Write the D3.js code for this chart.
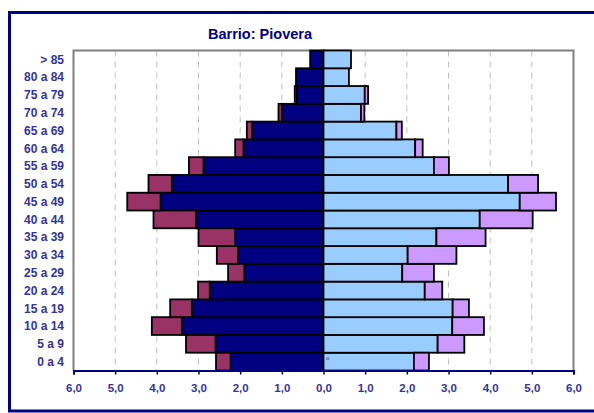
<!DOCTYPE html>
<html>
<head>
<meta charset="utf-8">
<script src="https://cdn.jsdelivr.net/npm/d3@7"></script>
<style>
  body { margin: 0; background: #fff; }
  svg { display: block; font-family: "Liberation Sans", Arial, sans-serif; }
</style>
</head>
<body>
<div id="chart"></div>
<script>
// age groups, bottom to top
var ages = ["0 a 4", "5 a 9", "10 a 14", "15 a 19", "20 a 24", "25 a 29", "30 a 34", "35 a 39",
            "40 a 44", "45 a 49", "50 a 54", "55 a 59", "60 a 64", "65 a 69", "70 a 74",
            "75 a 79", "80 a 84", "> 85"];
var menNative   = [2.23, 2.59, 3.40, 3.16, 2.73, 1.90, 2.05, 2.12, 3.06, 3.91, 3.64, 2.88, 1.92, 1.71, 1.00, 0.64, 0.66, 0.32];
var menForeign  = [0.35, 0.71, 0.72, 0.52, 0.28, 0.39, 0.51, 0.88, 1.02, 0.80, 0.56, 0.35, 0.20, 0.13, 0.08, 0.05, 0, 0];
var womenNative = [2.17, 2.74, 3.09, 3.10, 2.43, 1.89, 2.02, 2.71, 3.75, 4.71, 4.43, 2.65, 2.20, 1.75, 0.90, 0.99, 0.61, 0.66];
var womenForeign= [0.36, 0.64, 0.76, 0.39, 0.42, 0.76, 1.17, 1.18, 1.27, 0.87, 0.72, 0.36, 0.18, 0.13, 0.08, 0.08, 0, 0];
var xTicks = [-6, -5, -4, -3, -2, -1, 0, 1, 2, 3, 4, 5, 6];

var w = 594, h = 413;
var plot = {left: 73.5, right: 573.5, top: 50.5, bottom: 370.5};

var svg = d3.select("#chart").append("svg")
    .attr("width", w)
    .attr("height", h);

// outer frame (right edge runs off the picture)
svg.append("rect")
    .attr("x", 9.5).attr("y", 12.5)
    .attr("width", 620).attr("height", 398.5)
    .attr("fill", "none")
    .attr("stroke", "#000080")
    .attr("stroke-width", 3);

svg.append("text")
    .attr("x", 260).attr("y", 38.5)
    .attr("text-anchor", "middle")
    .attr("font-size", "14.5px")
    .attr("font-weight", "bold")
    .attr("fill", "#000080")
    .text("Barrio: Piovera");

var x = d3.scaleLinear().domain([-6, 6]).range([plot.left, plot.right]);
var y = d3.scaleBand().domain(ages).range([plot.bottom, plot.top]).padding(0);

// dashed grid lines
svg.append("g").selectAll("line")
  .data(xTicks.filter(function(d) { return d != 0 && Math.abs(d) != 6; }))
  .enter().append("line")
    .attr("x1", function(d) { return x(d); })
    .attr("x2", function(d) { return x(d); })
    .attr("y1", plot.top).attr("y2", plot.bottom)
    .attr("stroke", "#c0c0c0")
    .attr("stroke-width", 1)
    .attr("stroke-dasharray", "6,5");

// plot border (top, left, right)
svg.append("path")
    .attr("d", "M" + plot.left + "," + plot.bottom + "V" + plot.top + "H" + plot.right + "V" + plot.bottom)
    .attr("fill", "none")
    .attr("stroke", "#808080")
    .attr("stroke-width", 2);

var series = [
  {name: "menNative",    color: "#000080", start: function(i) { return 0; }, val: menNative, side: -1},
  {name: "menForeign",   color: "#993366", start: function(i) { return menNative[i]; }, val: menForeign, side: -1},
  {name: "womenNative",  color: "#99CCFF", start: function(i) { return 0; }, val: womenNative, side: 1},
  {name: "womenForeign", color: "#CC99FF", start: function(i) { return womenNative[i]; }, val: womenForeign, side: 1}
];

series.forEach(function(s) {
  svg.append("g").selectAll("rect")
    .data(s.val.map(function(v, i) { return {age: ages[i], a: s.start(i), b: s.start(i) + v}; })
               .filter(function(d) { return d.b > d.a; }))
    .enter().append("rect")
      .attr("x", function(d) { return s.side < 0 ? x(-d.b) : x(d.a); })
      .attr("width", function(d) { return Math.abs(x(d.b) - x(d.a)); })
      .attr("y", function(d) { return y(d.age); })
      .attr("height", y.bandwidth())
      .attr("fill", s.color)
      .attr("stroke", "#000")
      .attr("stroke-width", 1.8);
});

// small stray label seen near the base
svg.append("text")
    .attr("x", 326).attr("y", 360)
    .attr("font-size", "6px")
    .attr("fill", "#3333cc")
    .text("o");

// x axis
var xAxis = svg.append("g")
    .attr("transform", "translate(0," + plot.bottom + ")")
    .call(d3.axisBottom(x).tickValues(xTicks).tickSize(4).tickSizeOuter(4)
      .tickFormat(function(d) { return Math.abs(d).toFixed(1).replace(".", ","); }));
xAxis.select(".domain").attr("stroke", "#000080").attr("stroke-width", 2);
xAxis.selectAll(".tick line").attr("stroke", "#000080").attr("stroke-width", 1.5);
xAxis.selectAll(".tick text")
    .attr("y", 13)
    .attr("fill", "#333399")
    .attr("font-size", "11.5px")
    .attr("font-weight", "bold")
    .attr("font-family", "Liberation Sans, Arial, sans-serif");

// age labels
svg.append("g").selectAll("text")
  .data(ages)
  .enter().append("text")
    .attr("x", 64)
    .attr("y", function(d) { return y(d) + y.bandwidth() / 2; })
    .attr("dy", "0.36em")
    .attr("text-anchor", "end")
    .attr("font-size", "12px")
    .attr("font-weight", "bold")
    .attr("fill", "#333399")
    .text(function(d) { return d; });
</script>
</body>
</html>
